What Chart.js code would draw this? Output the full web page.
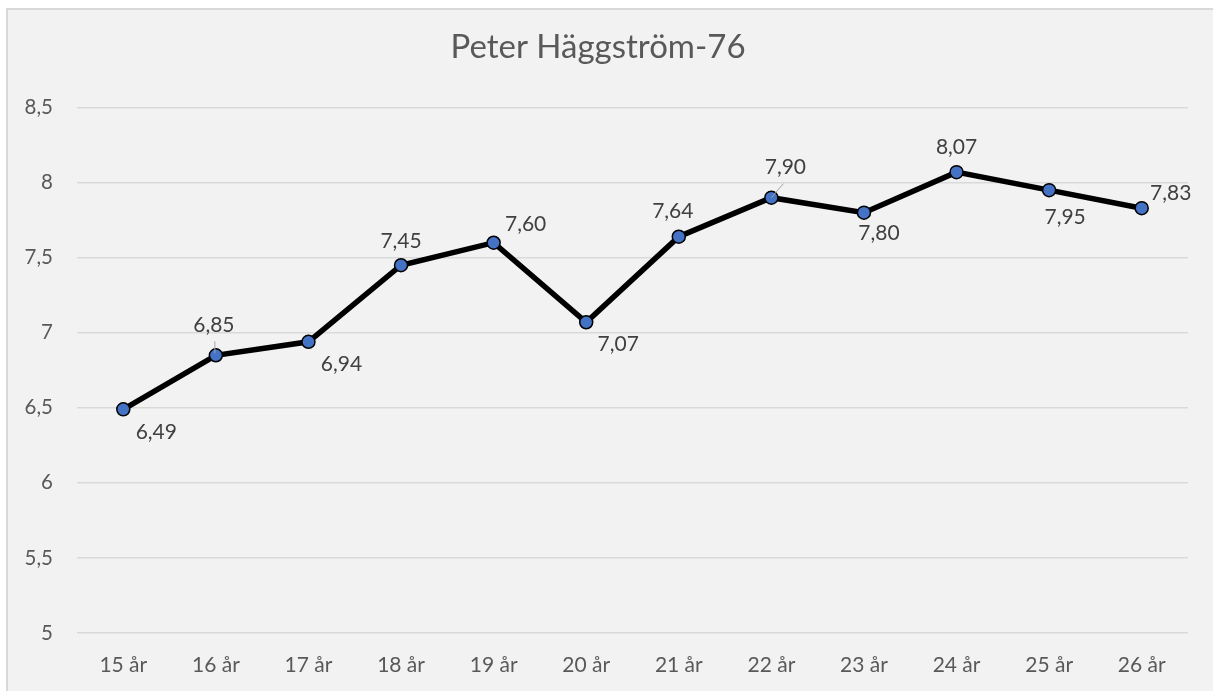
<!DOCTYPE html>
<html>
<head>
<meta charset="utf-8">
<script src="https://cdn.jsdelivr.net/npm/chart.js@4"></script>
<style>
  html, body { margin: 0; padding: 0; background: #ffffff; width: 1213px; height: 691px; overflow: hidden; }
  #frame { position: absolute; left: 6px; top: 8px; width: 1230px; height: 700px;
           border-top: 2px solid #d9d9d9; border-left: 2px solid #d9d9d9; background: #f2f2f2; }
  #c { position: absolute; left: 0; top: 0; }
</style>
</head>
<body>
<div id="frame"><canvas id="c" width="1205" height="681"></canvas></div>
<script>
const chartTitle = 'Peter Häggström-76';
const categories = ['15 år', '16 år', '17 år', '18 år', '19 år', '20 år', '21 år', '22 år', '23 år', '24 år', '25 år', '26 år'];
const values = [6.49, 6.85, 6.94, 7.45, 7.60, 7.07, 7.64, 7.90, 7.80, 8.07, 7.95, 7.83];
const yMin = 5;
const yMax = 8.5;
const yStep = 0.5;

const fontFamily = 'Lato, "Open Sans", "Noto Sans", sans-serif';

// label placement (offset of label centre from point, px) and optional leader lines
const labelOffsets = [[33, 23], [-2, -30], [33, 22], [0, -24], [32, -18], [32, 22], [-6, -25], [14, -30], [15, 21], [0, -25], [16, 27], [29, -15]];
const leaders = { 1: [[-1, -2], [-1, -14]], 7: [[0, 0], [12, -14]] };

const fmt = v => v.toFixed(2).replace('.', ',');

const labelPlugin = {
  id: 'pointLabels',
  afterDatasetsDraw(chart) {
    const ctx = chart.ctx;
    const meta = chart.getDatasetMeta(0);
    ctx.save();
    ctx.strokeStyle = '#a6a6a6';
    ctx.lineWidth = 1;
    Object.keys(leaders).forEach(k => {
      const el = meta.data[k];
      const [a, b] = leaders[k];
      ctx.beginPath();
      ctx.moveTo(el.x + a[0], el.y + a[1]);
      ctx.lineTo(el.x + b[0], el.y + b[1]);
      ctx.stroke();
    });
    ctx.fillStyle = '#404040';
    ctx.font = '21px ' + fontFamily;
    ctx.textAlign = 'center';
    ctx.textBaseline = 'middle';
    meta.data.forEach((el, i) => {
      const [dx, dy] = labelOffsets[i];
      ctx.fillText(fmt(chart.data.datasets[0].data[i]), el.x + dx, el.y + dy);
    });
    ctx.restore();
  }
};

new Chart(document.getElementById('c'), {
  type: 'line',
  data: {
    labels: categories,
    datasets: [{
      data: values,
      borderColor: '#000000',
      borderWidth: 5.5,
      pointRadius: 6.5,
      pointHoverRadius: 6.5,
      pointBackgroundColor: '#4472c4',
      pointBorderColor: '#000000',
      pointBorderWidth: 1.5,
      tension: 0,
      clip: false
    }]
  },
  options: {
    responsive: false,
    animation: false,
    events: [],
    layout: { padding: { top: 0, left: 0, right: 25, bottom: 0 } },
    plugins: {
      legend: { display: false },
      tooltip: { enabled: false },
      title: {
        display: true,
        text: chartTitle,
        color: '#595959',
        font: { family: fontFamily, size: 33, weight: 'normal' },
        padding: { top: 18, bottom: 40 }
      }
    },
    scales: {
      x: {
        offset: true,
        afterFit(scale) { scale.height = 58; },
        grid: { display: false, drawTicks: false },
        border: { display: false },
        ticks: { color: '#595959', font: { family: fontFamily, size: 21 }, padding: 20, maxRotation: 0 }
      },
      y: {
        min: yMin,
        max: yMax,
        afterFit(scale) { scale.width = 69; },
        grid: { color: '#d9d9d9', lineWidth: 1.5, drawTicks: false },
        border: { display: false },
        ticks: {
          stepSize: yStep,
          color: '#595959',
          font: { family: fontFamily, size: 20.5 },
          padding: 24,
          callback: v => String(v).replace('.', ',')
        }
      }
    }
  },
  plugins: [labelPlugin]
});
</script>
</body>
</html>
